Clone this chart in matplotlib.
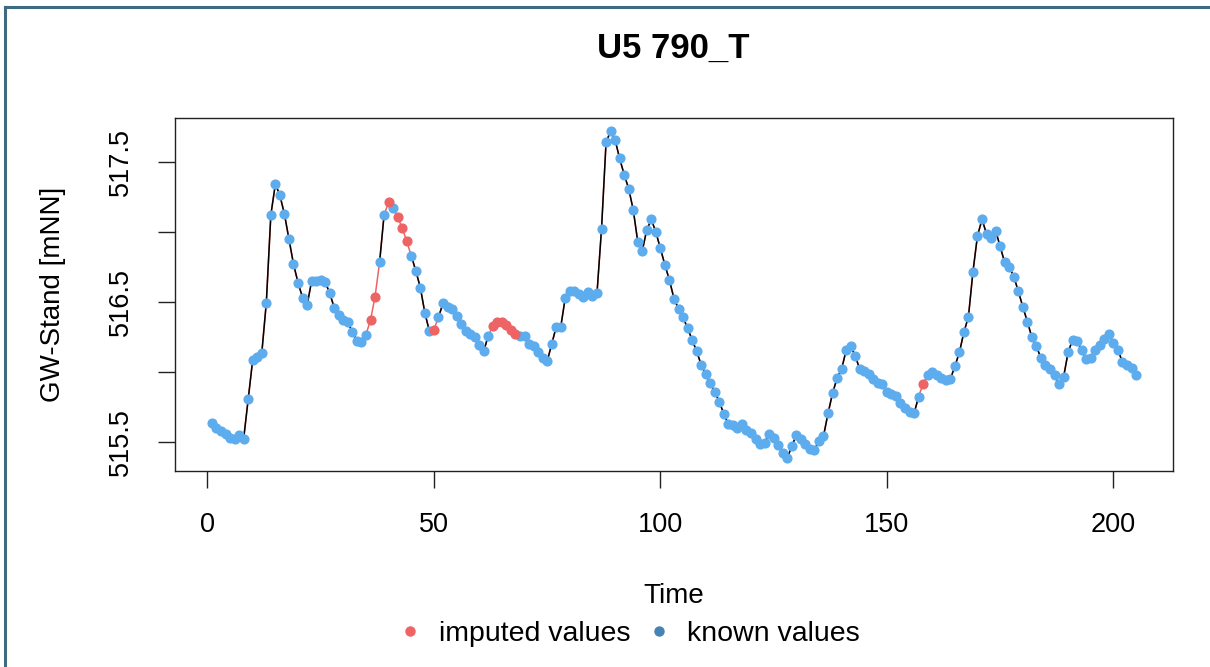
import numpy as np
import matplotlib
matplotlib.use("Agg")
import matplotlib.pyplot as plt
from matplotlib.lines import Line2D

plt.rcParams["font.family"] = ["Liberation Sans", "DejaVu Sans"]

# Groundwater level series (m above sea level), one value per time step
time = list(range(1, 206))
level = [
    515.634, 515.598, 515.581, 515.562, 515.530, 515.526, 515.550, 515.526, 515.806, 516.088,
    516.107, 516.136, 516.494, 517.120, 517.340, 517.259, 517.125, 516.948, 516.769, 516.637,
    516.530, 516.475, 516.649, 516.649, 516.657, 516.642, 516.561, 516.458, 516.403, 516.370,
    516.355, 516.284, 516.224, 516.212, 516.267, 516.370, 516.537, 516.781, 517.120, 517.211,
    517.168, 517.103, 517.027, 516.931, 516.829, 516.721, 516.602, 516.422, 516.291, 516.303,
    516.390, 516.489, 516.465, 516.446, 516.398, 516.339, 516.291, 516.274, 516.248, 516.195,
    516.148, 516.260, 516.327, 516.355, 516.355, 516.332, 516.303, 516.274, 516.255, 516.255,
    516.203, 516.183, 516.140, 516.100, 516.076, 516.200, 516.322, 516.322, 516.530, 516.578,
    516.578, 516.554, 516.537, 516.570, 516.542, 516.561, 517.020, 517.636, 517.717, 517.653,
    517.522, 517.407, 517.306, 517.156, 516.929, 516.864, 517.015, 517.087, 516.996, 516.881,
    516.762, 516.654, 516.523, 516.451, 516.390, 516.312, 516.231, 516.148, 516.052, 515.985,
    515.921, 515.856, 515.789, 515.701, 515.627, 515.622, 515.598, 515.629, 515.586, 515.567,
    515.526, 515.490, 515.495, 515.562, 515.533, 515.483, 515.424, 515.388, 515.471, 515.550,
    515.526, 515.490, 515.455, 515.447, 515.507, 515.543, 515.705, 515.849, 515.956, 516.021,
    516.155, 516.183, 516.116, 516.021, 516.004, 515.985, 515.949, 515.921, 515.916, 515.861,
    515.842, 515.830, 515.777, 515.746, 515.717, 515.705, 515.825, 515.916, 515.980, 515.998,
    515.980, 515.956, 515.944, 515.949, 516.040, 516.140, 516.284, 516.394, 516.716, 516.972,
    517.087, 516.984, 516.953, 517.008, 516.895, 516.781, 516.752, 516.680, 516.578, 516.465,
    516.360, 516.248, 516.183, 516.100, 516.052, 516.021, 515.980, 515.916, 515.964, 516.140,
    516.231, 516.224, 516.155, 516.093, 516.100, 516.160, 516.195, 516.236, 516.272, 516.207,
    516.160, 516.069, 516.052, 516.028, 515.976,
]
# Time steps whose values were filled in by imputation
imputed_steps = [36, 37, 40, 42, 43, 44, 50, 63, 64, 65, 66, 67, 68, 158]

x_ticks = [0, 50, 100, 150, 200]
y_ticks = [515.5, 516.0, 516.5, 517.0, 517.5]
y_tick_labels = ["515.5", "", "516.5", "", "517.5"]

title = "U5 790_T"
x_label = "Time"
y_label = "GW-Stand [mNN]"
legend_labels = ["imputed values", "known values"]

COL_IMP = "#EE6363"
COL_KNOWN = "#5CACEE"
COL_KNOWN_LEG = "#4682B4"

t = np.array(time, dtype=float)
y = np.array(level, dtype=float)
is_imp = np.isin(t, imputed_steps)
y_known = np.where(is_imp, np.nan, y)

W, H = 1210, 667
fig = plt.figure(figsize=(W / 100, H / 100), dpi=100)
ax = fig.add_axes([175 / W, 1 - 471 / H, 998 / W, 353 / H])

# full imputed series in red underneath, known stretches in black on top
ax.plot(t, y, color=COL_IMP, lw=1.1, zorder=2)
ax.plot(t, y_known, color="black", lw=1.1, zorder=3)
ax.plot(t[~is_imp], y[~is_imp], ls="none", marker="o", ms=6.3,
        color=COL_KNOWN, mec=COL_KNOWN, zorder=4)
ax.plot(t[is_imp], y[is_imp], ls="none", marker="o", ms=6.3,
        color=COL_IMP, mec=COL_IMP, zorder=5)

ax.margins(x=0.04, y=0.04)

ax.set_xticks(x_ticks)
ax.set_yticks(y_ticks)
ax.set_yticklabels(y_tick_labels, rotation=90, va="center")
ax.tick_params(direction="out", length=12.5, width=1.0, labelsize=19.5, color="#222222")
ax.tick_params(axis="x", pad=17)
ax.tick_params(axis="y", pad=17)
for s in ax.spines.values():
    s.set_linewidth(1.0)
    s.set_color("#222222")

fig.text(673 / W, 1 - 48 / H, title, ha="center", va="center",
         fontsize=25, fontweight="bold")
fig.text(674 / W, 1 - 596 / H, x_label, ha="center", va="center", fontsize=20)
fig.text(53 / W, 1 - 294 / H, y_label, ha="center", va="center",
         fontsize=20, rotation=90)

handles = [
    Line2D([], [], ls="none", marker="o", ms=6.5, color=COL_IMP, mec=COL_IMP),
    Line2D([], [], ls="none", marker="o", ms=6.5, color=COL_KNOWN_LEG, mec=COL_KNOWN_LEG),
]
fig.legend(handles, legend_labels, loc="center", bbox_to_anchor=(631 / W, 1 - 634 / H),
           ncol=2, frameon=False, fontsize=20.5, handlelength=0.6,
           handletextpad=0.7, columnspacing=0.7, borderpad=0)

# thin frame along the top and left edges of the figure
fig.add_artist(Line2D([5 / W, 1], [1 - 7 / H, 1 - 7 / H], color="#3f6a82", lw=2.2,
                      transform=fig.transFigure))
fig.add_artist(Line2D([5 / W, 5 / W], [0, 1 - 7 / H], color="#3f6a82", lw=2.2,
                      transform=fig.transFigure))

fig.savefig("out.png", dpi=100, facecolor="white")
